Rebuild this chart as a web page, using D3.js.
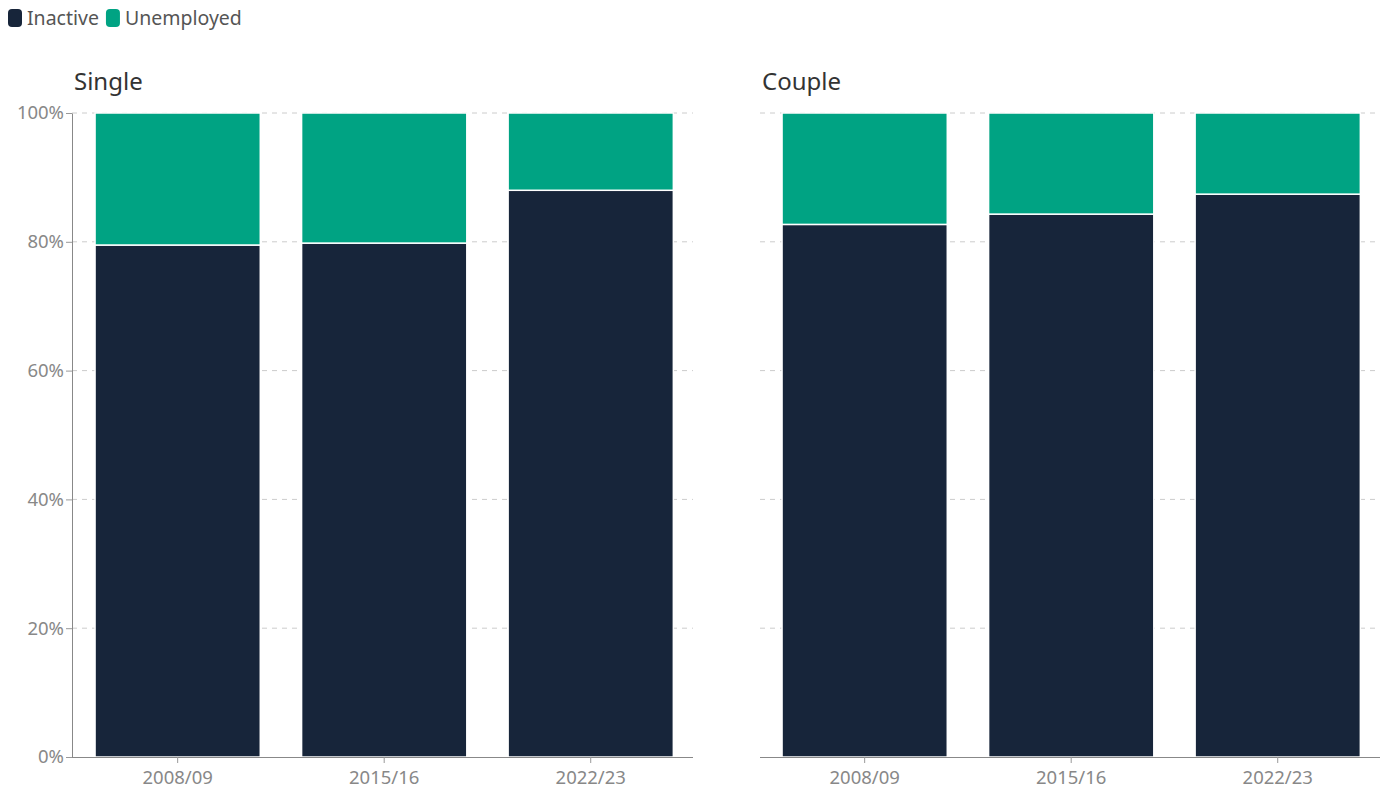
<!DOCTYPE html>
<html>
<head>
<meta charset="utf-8">
<script src="https://cdn.jsdelivr.net/npm/d3@7"></script>
<style>
  body { margin: 0; background: #fff; font-family: "Noto Sans", "Open Sans", sans-serif; }
</style>
</head>
<body>
<script>
var years = ["2008/09", "2015/16", "2022/23"];
var panels = ["Single", "Couple"];
var series = ["Inactive", "Unemployed"];
var colors = ["#17253a", "#00a383"];
var singleInactive = [79.5, 79.8, 88.0];
var coupleInactive = [82.7, 84.3, 87.4];
var yTicks = [0, 20, 40, 60, 80, 100];

var width = 1385, height = 791;
var plotTop = 113, plotBottom = 757;
var font = '"Noto Sans", "Open Sans", sans-serif';

var svg = d3.select('body').append('svg')
    .attr('width', width)
    .attr('height', height);

// legend
var legend = svg.append('g').attr('transform', 'translate(8,8)');
var lx = 0;
series.forEach(function (s, i) {
    legend.append('rect')
        .attr('x', lx).attr('y', 1)
        .attr('width', 14).attr('height', 18)
        .attr('rx', 4).attr('ry', 4)
        .style('fill', colors[i]);
    var t = legend.append('text')
        .attr('x', lx + 19).attr('y', 16.5)
        .style('font-size', '19.5px')
        .style('fill', '#555')
        .text(s);
    lx += 19 + t.node().getComputedTextLength() + 7;
});

var y = d3.scaleLinear().domain([0, 100]).range([plotBottom, plotTop]);

var panelRanges = [[72, 693], [760, 1380]];
var bandRanges = [[74.4, 694], [761.4, 1381]];
var panelData = [singleInactive, coupleInactive];

panels.forEach(function (name, p) {
    var r = panelRanges[p];
    var x = d3.scaleBand().domain(years).range(bandRanges[p])
        .paddingInner(0.2).paddingOuter(0.1);
    var g = svg.append('g');

    g.append('text')
        .attr('x', r[0] + 2).attr('y', 90)
        .style('font-size', '24px')
        .style('fill', '#333')
        .text(name);

    // grid
    g.selectAll('line.grid')
        .data(yTicks.filter(function (d) { return d > 0; }))
        .enter().append('line')
            .attr('x1', r[0]).attr('x2', r[1])
            .attr('y1', function (d) { return y(d); })
            .attr('y2', function (d) { return y(d); })
            .style('stroke', '#ccc')
            .style('stroke-dasharray', '5,5');

    var rows = years.map(function (yr, i) {
        return { year: yr, Inactive: panelData[p][i], Unemployed: 100 - panelData[p][i] };
    });
    var stacked = d3.stack().keys(series)(rows);

    g.selectAll('g.layer')
        .data(stacked)
        .enter().append('g')
            .style('fill', function (d, i) { return colors[i]; })
        .selectAll('rect')
        .data(function (d) { return d; })
        .enter().append('rect')
            .attr('x', function (d) { return x(d.data.year); })
            .attr('y', function (d) { return y(d[1]); })
            .attr('width', x.bandwidth())
            .attr('height', function (d) { return y(d[0]) - y(d[1]); })
            .style('stroke', '#fff')
            .style('stroke-width', 1.5);

    // x axis
    var xa = g.append('g')
        .attr('transform', 'translate(0,' + plotBottom + ')')
        .call(d3.axisBottom(x).tickSize(6).tickSizeOuter(0));
    xa.select('.domain').attr('d', 'M' + r[0] + ',0.5H' + r[1]).style('stroke', '#888');
    xa.selectAll('.tick line').style('stroke', '#999');
    xa.selectAll('.tick text')
        .attr('dy', '0.95em')
        .style('font-size', '18.5px')
        .style('font-family', font)
        .style('fill', '#888');

    if (p === 0) {
        var ya = g.append('g')
            .attr('transform', 'translate(' + r[0] + ',0)')
            .call(d3.axisLeft(y).tickValues(yTicks).tickSize(6).tickSizeOuter(0)
                .tickFormat(function (d) { return d + '%'; }));
        ya.select('.domain').style('stroke', '#888');
        ya.selectAll('.tick line').style('stroke', '#999');
        ya.selectAll('.tick text')
            .attr('x', -8)
            .style('font-size', '18.5px')
            .style('font-family', font)
            .style('fill', '#888');
    }
});
</script>
</body>
</html>
